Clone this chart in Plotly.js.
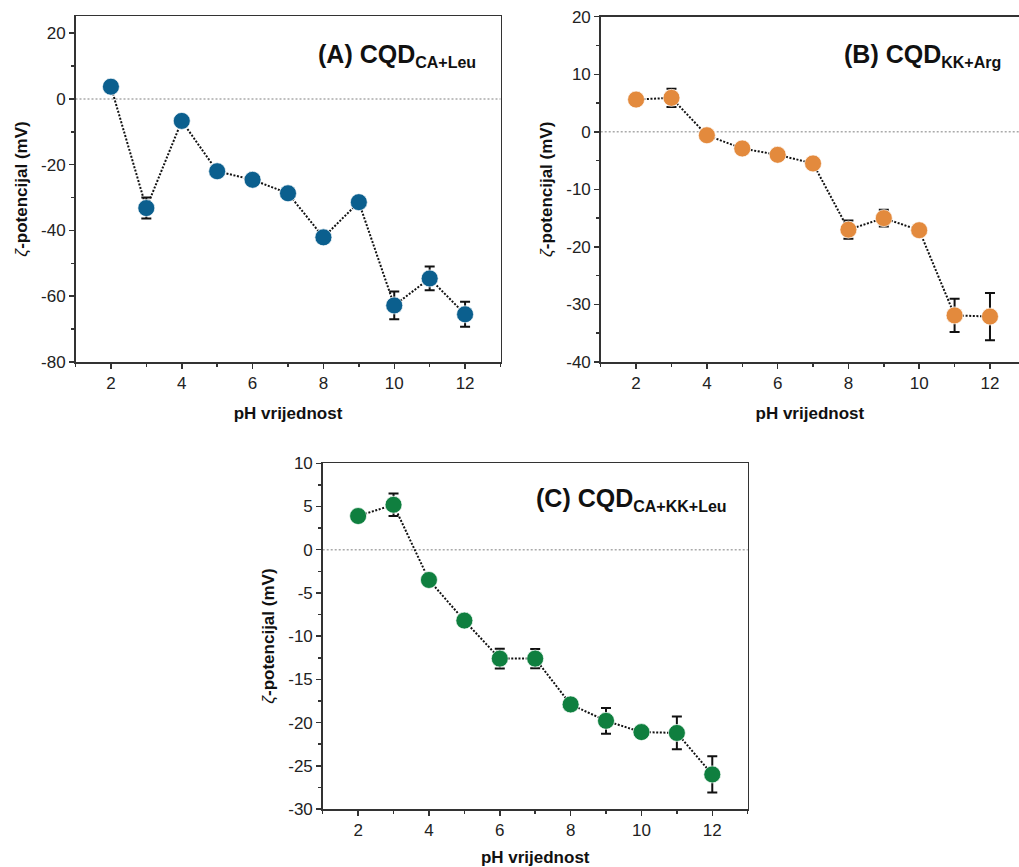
<!DOCTYPE html>
<html>
<head>
<meta charset="utf-8">
<script src="https://cdn.plot.ly/plotly-3.0.1.min.js"></script>
<style>html,body{margin:0;padding:0;background:#fff;}#chart{width:1019px;height:867px;}</style>
</head>
<body>
<div id="chart"></div>
<script>
// ---- data ----
const pH = [2, 3, 4, 5, 6, 7, 8, 9, 10, 11, 12];

const zetaA = [3.7, -33.2, -6.7, -22.0, -24.6, -28.7, -42.1, -31.4, -62.8, -54.6, -65.5];
const errA  = [0.8, 3.2, 0.8, 0.8, 0.8, 0.8, 0.8, 0.8, 4.2, 3.6, 3.8];

const zetaB = [5.6, 5.9, -0.6, -2.9, -4.0, -5.5, -17.0, -15.0, -17.1, -31.9, -32.1];
const errB  = [0.4, 1.6, 0.4, 0.4, 0.4, 0.4, 1.6, 1.45, 0.4, 2.9, 4.1];

const zetaC = [3.9, 5.2, -3.5, -8.2, -12.6, -12.6, -17.9, -19.8, -21.1, -21.2, -26.0];
const errC  = [0.3, 1.3, 0.3, 0.3, 1.15, 1.1, 0.3, 1.5, 0.3, 1.9, 2.1];

const mainA = "(A) CQD", subA = "CA+Leu";
const mainB = "(B) CQD", subB = "KK+Arg";
const mainC = "(C) CQD", subC = "CA+KK+Leu";
const xTitle = "<b>pH vrijednost</b>";
const yTitle = "<i>ζ</i><b>-potencijal (mV)</b>";

const xTickVals = [2, 4, 6, 8, 10, 12];
const xTickText = ["2", "4", "6", "8", "10", "12"];
const yTickValsA = [-80, -60, -40, -20, 0, 20];
const yTickTextA = ["-80", "-60", "-40", "-20", "0", "20"];
const yTickValsB = [-40, -30, -20, -10, 0, 10, 20];
const yTickTextB = ["-40", "-30", "-20", "-10", "0", "10", "20"];
const yTickValsC = [-30, -25, -20, -15, -10, -5, 0, 5, 10];
const yTickTextC = ["-30", "-25", "-20", "-15", "-10", "-5", "0", "5", "10"];

const colA = "#0b5f8e", colB = "#e38a3d", colC = "#0f7f3f";

// ---- build ----
const W = 1019, H = 867;
const FONT = "Liberation Sans, Arial, sans-serif";

function trace(y, err, color, xa, ya) {
  return {
    x: pH, y: y, xaxis: xa, yaxis: ya, type: "scatter", mode: "lines+markers",
    line: {color: "#111", width: 2, dash: "2px,1.6px"},
    marker: {color: color, size: 17, line: {color: "rgba(255,255,255,0.7)", width: 1}},
    error_y: {type: "data", array: err, visible: true, color: "#111", thickness: 2, width: 5},
    showlegend: false, cliponaxis: false
  };
}

function xaxis(dom, range, anchor, mirror) {
  return {
    domain: dom, range: range, anchor: anchor,
    tickmode: "array", tickvals: xTickVals, ticktext: xTickText,
    ticks: "outside", ticklen: 5, tickwidth: 1.5, tickcolor: "#333",
    minor: {dtick: 1, tick0: 1, ticks: "outside", ticklen: 3, tickwidth: 1.5, tickcolor: "#333", showgrid: false},
    showline: true, linecolor: "#333", linewidth: 1.5, mirror: mirror,
    showgrid: false, zeroline: false,
    tickfont: {family: FONT, size: 17, color: "#222"},
    title: {text: xTitle, font: {family: FONT, size: 17, color: "#111"}, standoff: 15},
    automargin: false
  };
}

function yaxis(dom, range, anchor, vals, text, minorStep, mirror) {
  return {
    domain: dom, range: range, anchor: anchor,
    tickmode: "array", tickvals: vals, ticktext: text,
    ticks: "outside", ticklen: 5, tickwidth: 1.5, tickcolor: "#333",
    minor: {dtick: minorStep, tick0: 0, ticks: "outside", ticklen: 3, tickwidth: 1.5, tickcolor: "#333", showgrid: false},
    showline: true, linecolor: "#333", linewidth: 1.5, mirror: mirror,
    showgrid: false, zeroline: false,
    tickfont: {family: FONT, size: 17, color: "#222"},
    title: {text: yTitle, font: {family: FONT, size: 17, color: "#111"}, standoff: 9},
    automargin: false
  };
}

function zeroLine(xa, ya) {
  return {type: "line", xref: xa + " domain", x0: 0, x1: 1, yref: ya, y0: 0, y1: 0,
          line: {color: "#aaa", width: 1.5, dash: "2px,2px"}, layer: "below"};
}

function label(main, sub, xr, yc) {
  return {text: "<b>" + main + "<sub><span style=\"font-size:16px\">" + sub + "</span></sub></b>",
          xref: "paper", yref: "paper", x: xr / W, y: 1 - yc / H,
          xanchor: "right", yanchor: "middle", showarrow: false,
          font: {family: FONT, size: 25, color: "#111"}};
}

const data = [
  trace(zetaA, errA, colA, "x", "y"),
  trace(zetaB, errB, colB, "x2", "y2"),
  trace(zetaC, errC, colC, "x3", "y3")
];

const layout = {
  width: W, height: H,
  margin: {l: 0, r: 0, t: 0, b: 0},
  paper_bgcolor: "#fff", plot_bgcolor: "#fff",
  font: {family: FONT},
  xaxis:  xaxis([75.5 / W, 500.5 / W], [1, 13], "y", true),
  yaxis:  yaxis([1 - 362 / H, 1 - 16 / H], [-80, 25.2], "x", yTickValsA, yTickTextA, 10, true),
  xaxis2: xaxis([600.7 / W, 1], [1, 12.82], "y2", true),
  yaxis2: yaxis([1 - 362 / H, 1 - 16.7 / H], [-40, 20], "x2", yTickValsB, yTickTextB, 5, false),
  xaxis3: xaxis([322.7 / W, 747.7 / W], [1, 13], "y3", true),
  yaxis3: yaxis([1 - 809 / H, 1 - 463.3 / H], [-30, 10], "x3", yTickValsC, yTickTextC, 2.5, true),
  shapes: [zeroLine("x", "y"), zeroLine("x2", "y2"), zeroLine("x3", "y3")],
  annotations: [
    label(mainA, subA, 478, 55),
    label(mainB, subB, 1003, 55),
    label(mainC, subC, 729, 499)
  ]
};

Plotly.newPlot("chart", data, layout, {displayModeBar: false, staticPlot: true});
</script>
</body>
</html>
